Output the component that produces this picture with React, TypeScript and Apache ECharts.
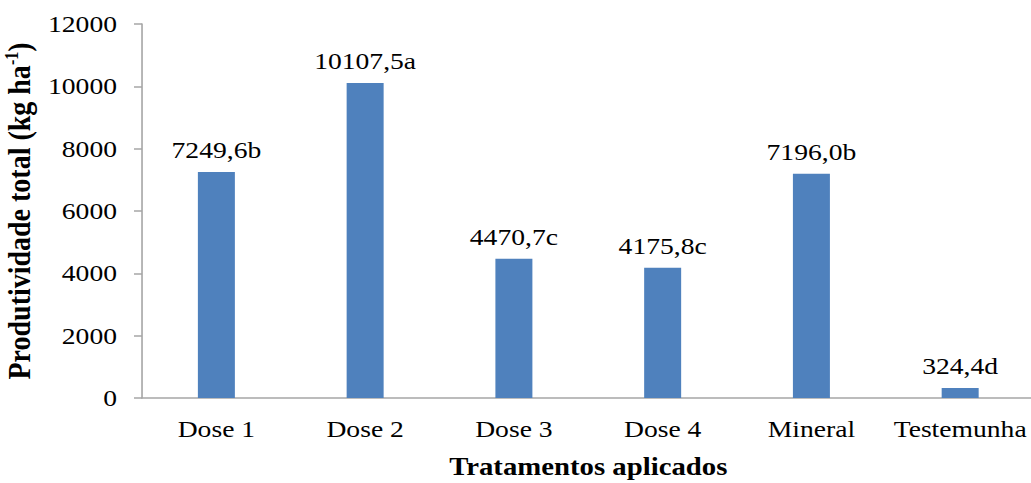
import React, { useEffect, useRef } from "react";
import * as echarts from "echarts";

const categories = ["Dose 1", "Dose 2", "Dose 3", "Dose 4", "Mineral", "Testemunha"];
const values = [7249.6, 10107.5, 4470.7, 4175.8, 7196.0, 324.4];
const letters = ["b", "a", "c", "c", "b", "d"];
const yTicks = { min: 0, max: 12000, interval: 2000 };

const FONT = "'Liberation Serif', 'Times New Roman', serif";
// The serif lettering is set slightly wide, so the chart is drawn narrower and stretched horizontally.
const STRETCH = 1.15;
const WIDTH = 1031;
const HEIGHT = 483;

export default function App() {
  const ref = useRef<HTMLDivElement>(null);

  useEffect(() => {
    if (!ref.current) return;
    const chart = echarts.init(ref.current, null, { renderer: "svg" });
    chart.setOption({
      animation: false,
      backgroundColor: "#ffffff",
      grid: {
        left: 142 / STRETCH,
        right: -3 / STRETCH,
        top: 24,
        bottom: 85,
        containLabel: false,
        outerBoundsMode: "none",
      },
      xAxis: {
        type: "category",
        data: categories,
        name: "Tratamentos aplicados",
        nameLocation: "middle",
        nameGap: 56,
        nameTextStyle: { fontFamily: FONT, fontSize: 25, fontWeight: "bold", color: "#000" },
        axisLine: { lineStyle: { color: "#a6a6a6", width: 1.5 } },
        axisTick: { show: false },
        axisLabel: { fontFamily: FONT, fontSize: 24, color: "#000", margin: 19, interval: 0 },
      },
      yAxis: {
        type: "value",
        min: yTicks.min,
        max: yTicks.max,
        interval: yTicks.interval,
        name: "{t|Produtividade total (kg ha}{s|-1}{t|)}",
        nameLocation: "middle",
        nameRotate: 90,
        nameGap: 92,
        nameTextStyle: {
          rich: {
            t: { fontFamily: FONT, fontSize: 28, fontWeight: "bold", color: "#000" },
            s: { fontFamily: FONT, fontSize: 16, fontWeight: "bold", color: "#000", verticalAlign: "top", padding: [0, 0, 12, 0] },
          },
        },
        splitLine: { show: false },
        axisLine: { show: true, lineStyle: { color: "#a6a6a6", width: 1.4 } },
        axisTick: { show: true, length: 8 / STRETCH, lineStyle: { color: "#a6a6a6", width: 1.5 } },
        axisLabel: {
          fontFamily: FONT,
          fontSize: 24,
          color: "#000",
          margin: 25 / STRETCH,
          formatter: (v: number) => String(v),
        },
      },
      series: [
        {
          type: "bar",
          data: values,
          barWidth: 37 / STRETCH,
          itemStyle: { color: "#4f81bd" },
          label: {
            show: true,
            position: "top",
            distance: 10,
            fontFamily: FONT,
            fontSize: 24,
            color: "#000",
            formatter: (p: any) => values[p.dataIndex].toFixed(1).replace(".", ",") + letters[p.dataIndex],
          },
        },
      ],
    });
    return () => chart.dispose();
  }, []);

  return (
    <div
      style={{ position: "fixed", left: 0, top: 0, width: WIDTH, height: HEIGHT, overflow: "hidden", background: "#fff" }}
    >
      <div
        ref={ref}
        style={{
          width: WIDTH / STRETCH,
          height: HEIGHT,
          transform: `scaleX(${STRETCH})`,
          transformOrigin: "0 0",
        }}
      />
    </div>
  );
}
